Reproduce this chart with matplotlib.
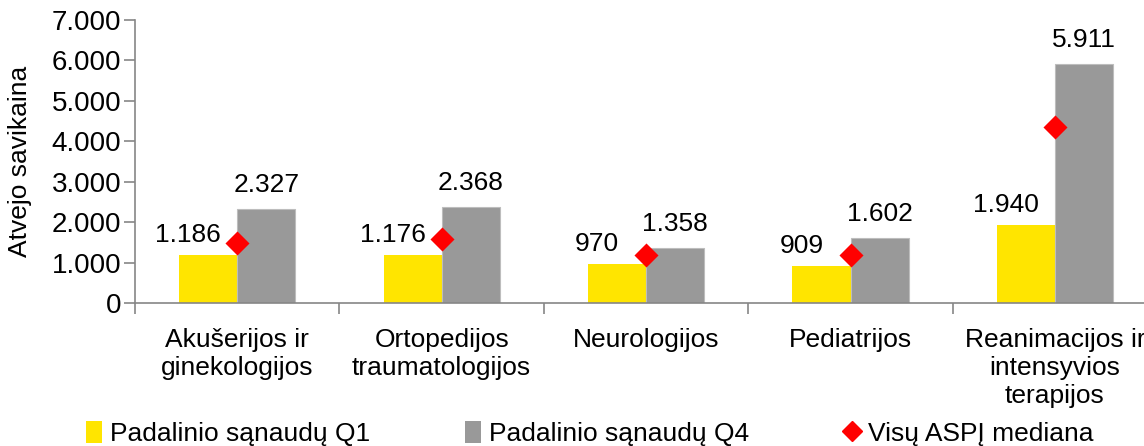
import matplotlib
matplotlib.use("Agg")
import matplotlib.pyplot as plt
from matplotlib.patches import Patch
from matplotlib.lines import Line2D
from matplotlib.ticker import FuncFormatter, FixedLocator
import numpy as np

plt.rcParams['font.family'] = ['Liberation Sans', 'DejaVu Sans']

categories = ["Akušerijos ir\nginekologijos", "Ortopedijos\ntraumatologijos",
              "Neurologijos", "Pediatrijos", "Reanimacijos ir\nintensyvios\nterapijos"]
q1_values = [1186, 1176, 970, 909, 1940]
q4_values = [2327, 2368, 1358, 1602, 5911]
median_values = [1485, 1575, 1190, 1190, 4355]

series_names = ["Padalinio sąnaudų Q1", "Padalinio sąnaudų Q4", "Visų ASPĮ mediana"]

yellow = "#FFE500"
grey = "#999999"
red = "#FF0000"
axis_grey = "#868686"
fs = 19


def thousands(v, pos=None):
    return f"{int(v):,}".replace(",", ".")


fig = plt.figure(figsize=(11.44, 4.46), dpi=100)
ax = fig.add_axes([0.118, 0.3206, 0.8935, 0.6345])

x = np.arange(len(categories))
w = 0.284
ax.bar(x - w / 2, q1_values, width=w, color=yellow, zorder=2)
ax.bar(x + w / 2, q4_values, width=w, color=grey, edgecolor="#BDBDBD", linewidth=0.8, zorder=2)
ax.scatter(x, median_values, marker="D", s=150, color=red, zorder=3, linewidths=0)

# value labels above bars
for xi, v in zip(x, q1_values):
    ax.annotate(thousands(v), (xi - w / 2, v), xytext=(-20, 8), textcoords="offset pixels",
                ha="center", va="bottom", fontsize=fs)
for xi, v in zip(x, q4_values):
    ax.annotate(thousands(v), (xi + w / 2, v), xytext=(0, 12), textcoords="offset pixels",
                ha="center", va="bottom", fontsize=fs)

ax.set_xlim(-0.5, len(categories) - 0.5)
ax.set_ylim(0, 7000)
ax.set_yticks(range(0, 7001, 1000))
ax.yaxis.set_major_formatter(FuncFormatter(thousands))
ax.set_ylabel("Atvejo savikaina", fontsize=fs, labelpad=14)

ax.set_xticks(x)
ax.set_xticklabels(categories, fontsize=fs, linespacing=1.2)
ax.xaxis.set_minor_locator(FixedLocator(np.arange(-0.5, len(categories), 1.0)))
ax.tick_params(axis="x", which="major", length=0, pad=18)
ax.tick_params(axis="x", which="minor", length=8, color=axis_grey, width=1.2)
ax.tick_params(axis="y", length=8, color=axis_grey, width=1.2, labelsize=fs + 1, pad=2)

for side in ("top", "right"):
    ax.spines[side].set_visible(False)
for side in ("left", "bottom"):
    ax.spines[side].set_color(axis_grey)
    ax.spines[side].set_linewidth(1.2)

handles = [
    Patch(facecolor=yellow, edgecolor="none"),
    Patch(facecolor=grey, edgecolor="none"),
    Line2D([], [], marker="D", color=red, linestyle="none", markersize=10),
]
fig.legend(handles, series_names, loc="center left", bbox_to_anchor=(0.066, 0.028),
           ncol=3, frameon=False, fontsize=fs, handlelength=0.6, handleheight=0.9,
           handletextpad=0.3, columnspacing=3.6, borderaxespad=0)

fig.savefig("out.png", dpi=100)
